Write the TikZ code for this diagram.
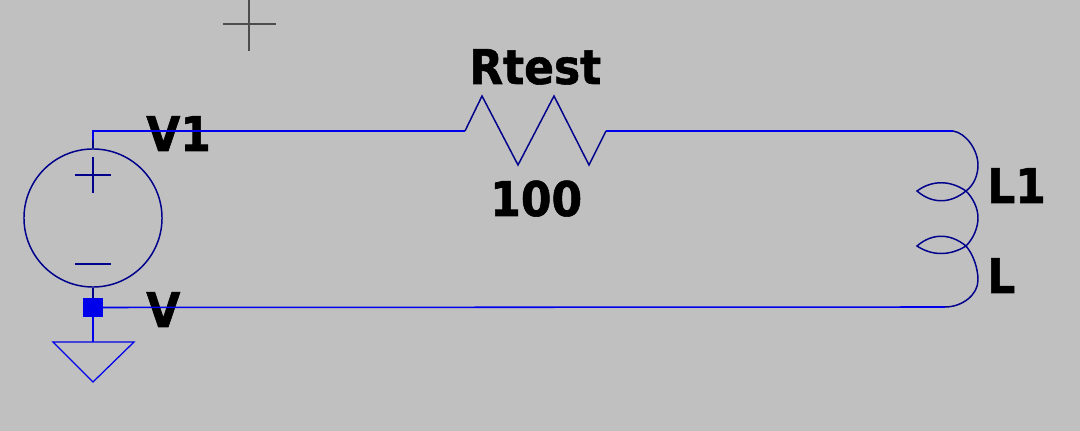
\documentclass[tikz,border=0pt]{standalone}
\usepackage{fontspec}
\newfontfamily\labelfont[FakeStretch=0.92,FakeBold=1.2]{DejaVu Sans Bold}
\usepackage{tikz}
\usetikzlibrary{calc,positioning}
\definecolor{sheet}{RGB}{192,192,192}
\definecolor{wireblue}{RGB}{0,0,235}
\definecolor{partblue}{RGB}{0,0,140}

\begin{document}
\begin{tikzpicture}[
    x=0.025cm, y=-0.025cm,
    % Node styles
    label/.style={inner sep=0pt, anchor=base west, font=\labelfont\fontsize{34}{34}\selectfont},
    source/.style={draw=partblue, circle, line width=1.05pt, inner sep=0pt, minimum size=3.45cm},
    junction/.style={fill=wireblue, inner sep=0pt, minimum size=0.475cm},
    wire/.style={draw=wireblue, line width=1.1pt},
    part/.style={draw=partblue, line width=1.05pt, line join=miter},
    ground/.style={draw=wireblue, line width=0.9pt},
    cursor/.style={draw=black!70, line width=0.9pt},
]

    \fill[sheet] (0,0) rectangle (1080,431);
    \useasboundingbox (0,0) rectangle (1080,431);

    % Labels go first, the wires run over them
    \node[label] (rname) at (469,84) {Rtest};
    \node[label] (rvalue) at (490,216) {100};
    \node[label] (vname) at (146,151) {V1};
    \node[label] (vvalue) at (146,327) {V};
    \node[label] (lname) at (987,203) {L1};
    \node[label] (lvalue) at (987,293) {L};

    % Define nodes here
    \node[source] (src) at (93,218) {};
    \node[junction] (dot) at (93,307.5) {};
    \coordinate (corner) at (93,131);
    \coordinate (rleft) at (465,131);
    \coordinate (rright) at (606,131);
    \coordinate (ltop) at (953,131);
    \coordinate (lbot) at (945,307);
    \coordinate (gnd) at (93,342);
    \coordinate (cross1) at (966,191);
    \coordinate (cross2) at (966,246);

    % Source signs
    \draw[part] (93,157) -- (93,193);
    \draw[part] (75,175) -- (111,175);
    \draw[part] (75,264) -- (111,264);

    % Draw connections
    \draw[part] (src.north) -- (93,140);
    \draw[wire] (93,140) -- (corner) -- (rleft);
    \draw[wire] (rright) -- (ltop);
    \draw[part] (src.south) -- (dot);
    \draw[wire] (dot) -- (lbot);
    \draw[wire] (dot) -- (gnd);

    % Resistor
    \draw[part] (rleft) -- (482,96) -- (518,165) -- (554,96) -- (589,165) -- (rright);

    % Inductor
    \draw[part] (ltop) .. controls (966,133) and (978,150) .. (978,165)
        .. controls (978,175) and (974,185) .. (cross1)
        .. controls (973,198) and (978,208) .. (978,218)
        .. controls (978,228) and (973,239) .. (cross2)
        .. controls (973,254) and (978,268) .. (978,280)
        .. controls (978,295) and (962,307) .. (lbot);
    \draw[part] (cross1) .. controls (950,180) and (932,180) .. (917,191)
        .. controls (932,204) and (950,204) .. (cross1);
    \draw[part] (cross2) .. controls (950,233) and (932,233) .. (917,246)
        .. controls (932,256) and (950,256) .. (cross2);

    % Ground
    \draw[ground] (gnd) -- (53,342) -- (93,382) -- (134,342) -- cycle;

    % Cursor
    \draw[cursor] (249,0) -- (249,51);
    \draw[cursor] (223,24) -- (276,24);

\end{tikzpicture}
\end{document}
